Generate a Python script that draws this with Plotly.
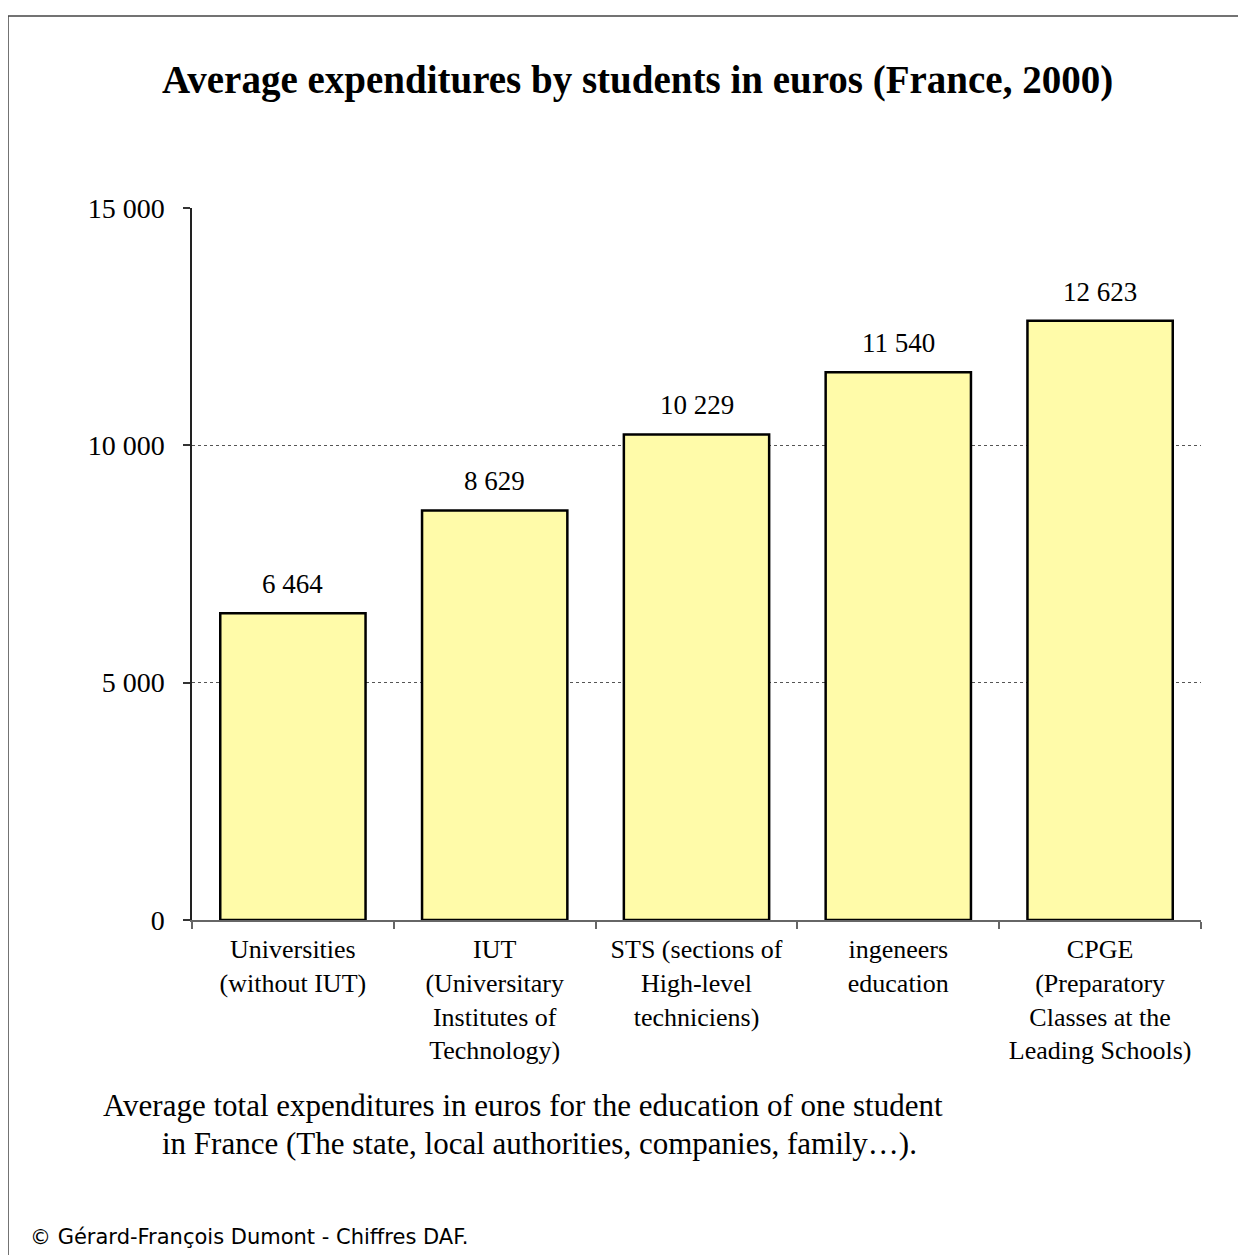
import plotly.graph_objects as go

categories = [
    "Universities<br>(without IUT)",
    "IUT<br>(Universitary<br>Institutes of<br>Technology)",
    "STS (sections of<br>High-level<br>techniciens)",
    "ingeneers<br>education",
    "CPGE<br>(Preparatory<br>Classes at the<br>Leading Schools)",
]
values = [6464, 8629, 10229, 11540, 12623]
value_labels = ["6 464", "8 629", "10 229", "11 540", "12 623"]
y_ticks = [0, 5000, 10000, 15000]
y_tick_labels = ["0", "5 000", "10 000", "15 000"]

title_text = "Average expenditures by students in euros (France, 2000)"
caption_line1 = "Average total expenditures in euros for the education of one student"
caption_line2 = "in France (The state, local authorities, companies, family…)."
footer_text = "© Gérard-François Dumont - Chiffres DAF."

SERIF = "Palatino Linotype, Palatino, Book Antiqua, Liberation Serif, serif"

OFF = 8  # page body margin offset
W, H = 1246 - OFF, 1255 - OFF
L, R, T, B = 192 - OFF, 1201 - OFF, 208 - OFF, 920 - OFF

def px(x):
    return (x - OFF - L) / (R - L)

def py(y):
    return (B - (y - OFF)) / (B - T)

fig = go.Figure()
fig.add_trace(go.Bar(
    x=categories,
    y=values,
    marker=dict(color="#FFFBA9", line=dict(color="black", width=2.5)),
    hoverinfo="skip",
))

for c, v, lab in zip(categories, values, value_labels):
    fig.add_annotation(x=c, y=v, text=lab, showarrow=False, yanchor="bottom",
                       yshift=12, font=dict(family=SERIF, size=27, color="black"))

fig.add_annotation(xref="paper", yref="paper", x=px(637), y=py(80), text=f"<b>{title_text}</b>",
                   showarrow=False, xanchor="center", yanchor="middle",
                   font=dict(family=SERIF, size=39, color="black"))
fig.add_annotation(xref="paper", yref="paper", x=px(523), y=py(1105), text=caption_line1,
                   showarrow=False, xanchor="center", yanchor="middle",
                   font=dict(family=SERIF, size=31, color="black"))
fig.add_annotation(xref="paper", yref="paper", x=px(539), y=py(1143), text=caption_line2,
                   showarrow=False, xanchor="center", yanchor="middle",
                   font=dict(family=SERIF, size=31, color="black"))
fig.add_annotation(xref="paper", yref="paper", x=px(28), y=py(1237), text=footer_text,
                   showarrow=False, xanchor="left", yanchor="middle",
                   font=dict(family="DejaVu Sans, sans-serif", size=21, color="black"))

frame_color = "#444444"
fig.add_shape(type="line", xref="paper", yref="paper", x0=px(8), x1=px(1260), y0=py(16), y1=py(16),
              line=dict(color=frame_color, width=1.5))
fig.add_shape(type="line", xref="paper", yref="paper", x0=px(8), x1=px(8), y0=py(16), y1=py(1270),
              line=dict(color=frame_color, width=1.5))

fig.update_layout(
    width=W, height=H,
    margin=dict(l=L, r=W - R, t=T, b=H - B),
    paper_bgcolor="white", plot_bgcolor="white",
    showlegend=False,
    bargap=0.28,
    separators=", ",
    font=dict(family=SERIF, size=26, color="black"),
    xaxis=dict(
        type="category",
        tickson="boundaries",
        ticks="outside", ticklen=7, tickcolor="#666666", tickwidth=1.5,
        showline=True, linecolor="#666666", linewidth=1.5,
        showgrid=False,
        tickfont=dict(family=SERIF, size=26, color="black"),
        ticklabelstandoff=5,
    ),
    yaxis=dict(
        range=[0, 15000],
        tickvals=y_ticks, ticktext=y_tick_labels,
        ticks="outside", ticklen=7, tickcolor="#333333", tickwidth=1.5,
        showline=True, linecolor="#222222", linewidth=1.5,
        showgrid=True, gridcolor="#555555", griddash="dot", gridwidth=1,
        zeroline=False,
        tickfont=dict(family=SERIF, size=28, color="black"),
        ticklabelstandoff=13,
    ),
)

fig.write_html("out.html")
